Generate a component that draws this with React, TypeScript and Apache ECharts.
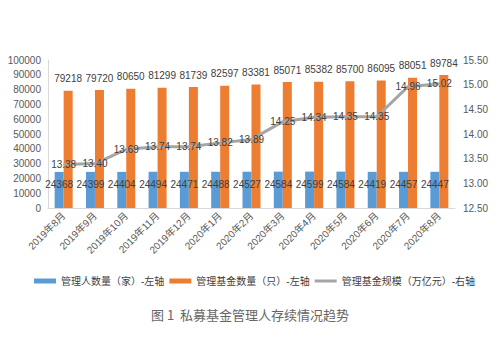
import React, { useEffect, useRef } from "react";
import * as echarts from "echarts";

const categories = ["2019年8月","2019年9月","2019年10月","2019年11月","2019年12月","2020年1月","2020年2月","2020年3月","2020年4月","2020年5月","2020年6月","2020年7月","2020年8月"];
const managers = [24368,24399,24404,24494,24471,24488,24527,24584,24599,24584,24419,24457,24447];
const funds = [79218,79720,80650,81299,81739,82597,83381,85071,85382,85700,86095,88051,89784];
const scale = [13.38,13.40,13.69,13.74,13.74,13.82,13.89,14.25,14.34,14.35,14.35,14.96,15.02];

const FONT = "'Liberation Sans', 'Noto Sans CJK SC', sans-serif";
const TXT = "#404040";

export default function App() {
  const ref = useRef<HTMLDivElement>(null);
  useEffect(() => {
    const chart = echarts.init(ref.current!, null, { renderer: "svg" });
    chart.setOption({
      animation: false,
      backgroundColor: "#fff",
      textStyle: { fontFamily: FONT },
      grid: { left: 48, right: 45, top: 60, bottom: 144 },
      legend: {
        top: 271,
        left: 29,
        itemWidth: 22,
        itemHeight: 5,
        itemGap: 5,
        textStyle: { fontSize: 10, color: TXT, fontFamily: FONT },
        data: [
          { name: "管理人数量（家）-左轴", icon: "rect" },
          { name: "管理基金数量（只）-左轴", icon: "rect" },
          { name: "管理基金规模（万亿元）-右轴", icon: "path://M0,0L22,0L22,3L0,3Z", itemStyle: { color: "#A5A5A5" } },
        ],
      },
      xAxis: {
        type: "category",
        data: categories,
        axisLine: { lineStyle: { color: "#d9d9d9" } },
        axisTick: { show: false },
        axisLabel: { rotate: 45, fontSize: 10, color: "#595959", margin: 6, interval: 0 },
      },
      yAxis: [
        {
          type: "value",
          min: 0,
          max: 100000,
          interval: 10000,
          axisLine: { show: true, lineStyle: { color: "#d9d9d9" } },
          splitLine: { show: false },
          axisLabel: { fontSize: 10, color: "#595959", margin: 7, formatter: (v: number) => String(v) },
        },
        {
          type: "value",
          min: 12.5,
          max: 15.5,
          interval: 0.5,
          axisLine: { show: false },
          splitLine: { show: false },
          axisLabel: { fontSize: 10, color: "#595959", margin: 8, formatter: (v: number) => v.toFixed(2) },
        },
      ],
      series: [
        {
          name: "管理人数量（家）-左轴",
          type: "bar",
          data: managers,
          barWidth: 9,
          barGap: "0%",
          itemStyle: { color: "#5B9BD5" },
          label: { show: true, position: "insideTop", distance: 8, fontSize: 10, color: TXT, formatter: (p: any) => String(p.value) },
        },
        {
          name: "管理基金数量（只）-左轴",
          type: "bar",
          data: funds,
          barWidth: 9,
          barGap: "0%",
          itemStyle: { color: "#ED7D31" },
          label: { show: true, position: "top", distance: 7, fontSize: 10, color: TXT, formatter: (p: any) => String(p.value) },
        },
        {
          name: "管理基金规模（万亿元）-右轴",
          type: "line",
          yAxisIndex: 1,
          data: scale,
          symbol: "circle",
          symbolSize: 1,
          lineStyle: { color: "#A5A5A5", width: 3 },
          itemStyle: { color: "#A5A5A5" },
          label: { show: true, position: "inside", fontSize: 10, color: TXT, formatter: (p: any) => p.value.toFixed(2) },
        },
      ],
      graphic: [
        {
          type: "text",
          left: "center",
          top: 308,
          style: {
            text: "图 1  私募基金管理人存续情况趋势",
            font: "13px 'Noto Sans CJK SC', serif",
            fill: "#666",
          },
        },
      ],
    });
    return () => chart.dispose();
  }, []);
  return <div ref={ref} style={{ position: "absolute", left: 0, top: 0, width: 500, height: 352 }} />;
}
